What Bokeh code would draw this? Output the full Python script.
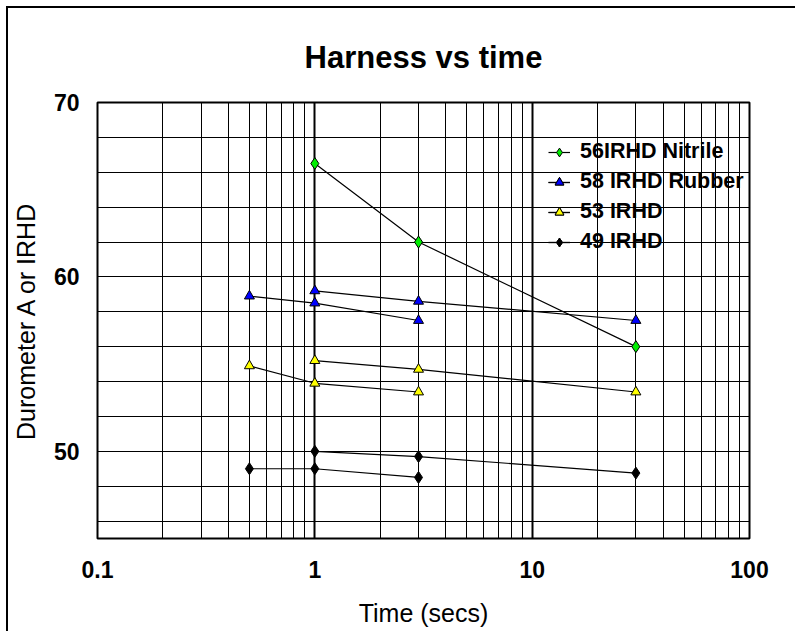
from bokeh.plotting import figure
from bokeh.models import FixedTicker, CustomJSTickFormatter, Legend, Range1d
from bokeh.embed import file_html
from bokeh.resources import INLINE

# ---- data ----
time_run_a = [0.5, 1, 3]
time_run_b = [1, 3, 30]

nitrile_time = [1, 3, 30]
nitrile_vals = [66.5, 62.0, 56.0]

rubber_a = [58.9, 58.5, 57.5]
rubber_b = [59.2, 58.6, 57.5]

irhd53_a = [54.9, 53.9, 53.4]
irhd53_b = [55.2, 54.7, 53.4]

irhd49_a = [49.0, 49.0, 48.5]
irhd49_b = [50.0, 49.7, 48.75]

x_major = [0.1, 1, 10, 100]
y_major = [50, 60, 70]

FONT = "Liberation Sans"

p = figure(width=789, height=625, x_axis_type="log",
           x_range=Range1d(0.1, 100), y_range=Range1d(45, 70),
           output_backend="svg", toolbar_location=None,
           title="Harness vs time")
p.min_border_left = 89
p.min_border_right = 48
p.min_border_top = 94
p.min_border_bottom = 95
p.styles = {"margin-left": "6px", "margin-top": "6px",
            "border-left": "2px solid black", "border-top": "2px solid black"}

p.title.align = "center"
p.title.text_font = FONT
p.title.text_font_size = "31px"
p.title.text_font_style = "bold"
p.title.text_color = "black"
p.title.offset = 0
p.title.standoff = 56

p.outline_line_color = "black"
p.outline_line_width = 2

# ticks
x_minor = [m * d for d in (0.1, 1, 10) for m in range(2, 10)]
p.xaxis.ticker = FixedTicker(ticks=x_major, minor_ticks=x_minor)
p.xaxis.formatter = CustomJSTickFormatter(code="return tick < 1 ? tick.toFixed(1) : tick.toFixed(0);")
y_minor = list(range(46, 71, 2))
p.yaxis.ticker = FixedTicker(ticks=y_major, minor_ticks=y_minor)

for ax in (p.xaxis[0], p.yaxis[0]):
    ax.axis_line_color = None
    ax.major_tick_line_color = None
    ax.minor_tick_line_color = None
    ax.major_label_text_font = FONT
    ax.major_label_text_font_size = "23px"
    ax.major_label_text_font_style = "bold"
    ax.major_label_text_color = "black"
    ax.axis_label_text_font = FONT
    ax.axis_label_text_font_size = "25px"
    ax.axis_label_text_font_style = "normal"
    ax.axis_label_text_color = "black"

p.xaxis.axis_label = "Time (secs)"
p.yaxis.axis_label = "Durometer A or IRHD"
p.xaxis.major_label_standoff = 16
p.yaxis.major_label_standoff = 12
p.xaxis.axis_label_standoff = 18
p.yaxis.axis_label_standoff = 11

p.xgrid.grid_line_color = "black"
p.xgrid.grid_line_width = 2
p.xgrid.minor_grid_line_color = "black"
p.xgrid.minor_grid_line_width = 1
p.ygrid.grid_line_color = "black"
p.ygrid.grid_line_width = 1
p.ygrid.minor_grid_line_color = "black"
p.ygrid.minor_grid_line_width = 1

items = []

def series(label, runs, color, marker, size):
    rends = []
    for xs, ys in runs:
        rends.append(p.line(xs, ys, line_color="black", line_width=1.2))
    for xs, ys in runs:
        rends.append(p.scatter(xs, ys, marker=marker, size=size,
                               fill_color=color, line_color="black", line_width=1))
    items.append((label, rends))

series("56IRHD Nitrile", [(nitrile_time, nitrile_vals)], "#00ee00", "diamond", 12)
series("58 IRHD Rubber", [(time_run_a, rubber_a), (time_run_b, rubber_b)], "#0000ff", "triangle", 10)
series("53 IRHD", [(time_run_a, irhd53_a), (time_run_b, irhd53_b)], "#ffff00", "triangle", 10)
series("49 IRHD", [(time_run_a, irhd49_a), (time_run_b, irhd49_b)], "black", "diamond", 12)

legend = Legend(items=items, location=(451, 284))
legend.background_fill_alpha = 0
legend.border_line_alpha = 0
legend.padding = 0
legend.margin = 0
legend.spacing = 5
legend.glyph_width = 22
legend.glyph_height = 24
legend.label_height = 24
legend.label_standoff = 10
legend.label_text_font = FONT
legend.label_text_font_size = "21.5px"
legend.label_text_font_style = "bold"
legend.label_text_color = "black"
p.add_layout(legend, "center")

open("out.html", "w").write(file_html(p, INLINE))
